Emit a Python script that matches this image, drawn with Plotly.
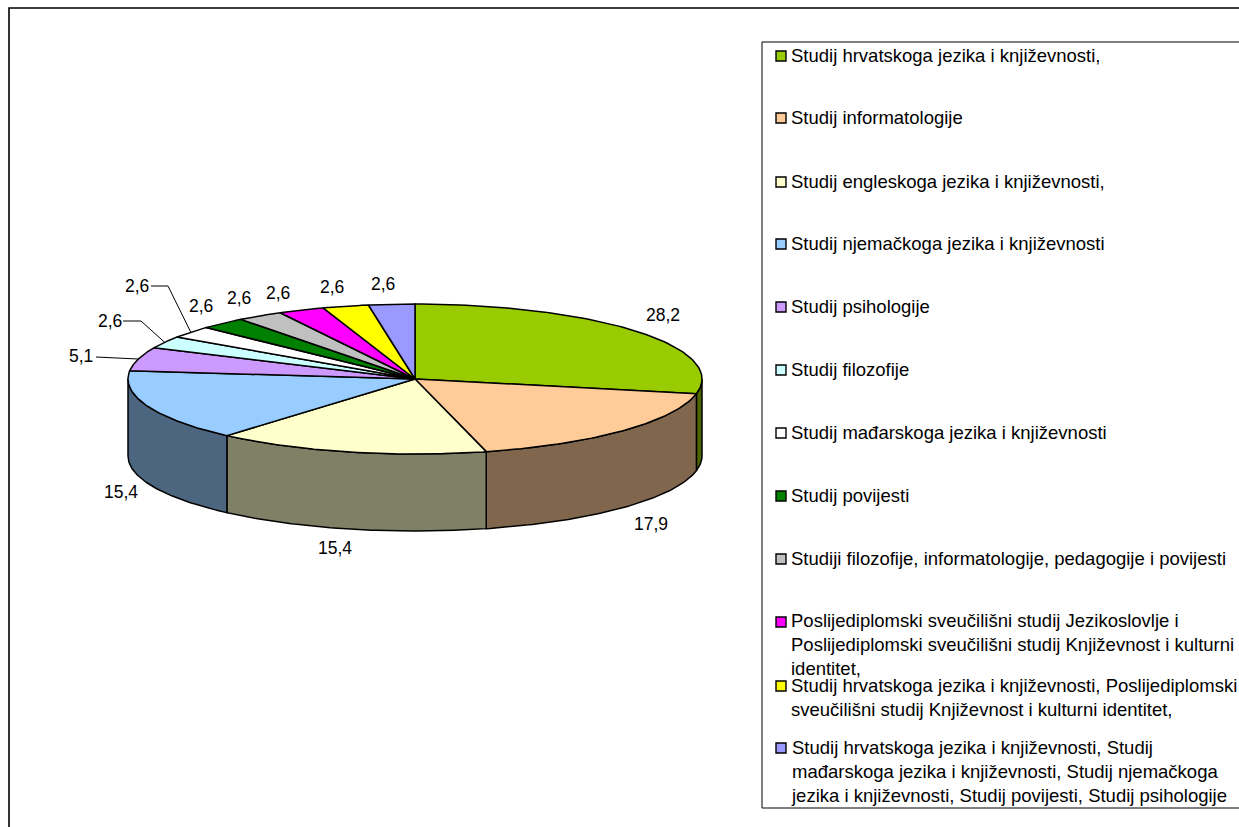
import numpy as np
import plotly.graph_objects as go

# Shares of graduate theses by study programme (per cent)
programmes = [
    "Studij hrvatskoga jezika i književnosti,",
    "Studij informatologije",
    "Studij engleskoga jezika i književnosti,",
    "Studij njemačkoga jezika i književnosti",
    "Studij psihologije",
    "Studij filozofije",
    "Studij mađarskoga jezika i književnosti",
    "Studij povijesti",
    "Studiji filozofije, informatologije, pedagogije i povijesti",
    "Poslijediplomski sveučilišni studij Jezikoslovlje i<br>Poslijediplomski sveučilišni studij Književnost i kulturni<br>identitet,",
    "Studij hrvatskoga jezika i književnosti, Poslijediplomski<br>sveučilišni studij Književnost i kulturni identitet,",
    "Studij hrvatskoga jezika i književnosti, Studij<br>mađarskoga jezika i književnosti, Studij njemačkoga<br>jezika i književnosti, Studij povijesti, Studij psihologije",
]
shares = [28.2, 17.9, 15.4, 15.4, 5.1, 2.6, 2.6, 2.6, 2.6, 2.6, 2.6, 2.6]
top_colors = ["#99CC00", "#FFCC99", "#FFFFCC", "#99CCFF", "#CC99FF", "#CCFFFF",
              "#FFFFFF", "#008000", "#C0C0C0", "#FF00FF", "#FFFF00", "#9999FF"]
wall_colors = ["#4D6600", "#80664D", "#808066", "#4D6680"]

# Pie geometry on a pixel-sized canvas
W, H = 1239, 827
CX, CY, RX, RY, DEPTH = 415, 379, 287, 75, 77
FONT = "Liberation Sans, Arial, sans-serif"
LABEL_SIZE = 17.5
LEGEND_SIZE = 18.5
INK = "#000000"

# Value label centres and leader elbows in canvas pixels
label_xy = [(663, 315), (651, 524), (335, 548), (121, 492), (81, 356), (110, 321),
            (137, 286), (201, 306), (239, 298), (278, 293), (332, 287), (383, 284)]
leader_elbows = {4: [(96, 357)], 5: [(123, 321), (141, 321)], 6: [(151, 286), (168, 286)]}
legend_rows = [56, 118, 182, 244, 307, 370, 433, 496, 559, 622, 686, 748]
text_nudge = {9: -1}
LEG_X0, LEG_Y0, LEG_Y1 = 762, 42, 808
FRAME_X, FRAME_Y = 9, 8


def rim(theta_deg):
    t = np.radians(theta_deg)
    return CX + RX * np.sin(t), CY - RY * np.cos(t)


edges = np.concatenate([[0], np.cumsum(shares)]) / sum(shares) * 360
fig = go.Figure()


def polygon(xs, ys, fill, name):
    fig.add_trace(go.Scatter(
        x=xs, y=ys, mode="lines", fill="toself", fillcolor=fill, name=name,
        line=dict(color=INK, width=1.5), hoverinfo="skip", showlegend=False))


# Outer wall of the front half of the disc, painted from the right round to the left
for i, color in enumerate(wall_colors):
    a = max(edges[i], 90)
    b = min(edges[i + 1], 270)
    t = np.linspace(a, b, 80)
    x, y = rim(t)
    polygon(np.concatenate([x, x[::-1], x[:1]]),
            np.concatenate([y, y[::-1] + DEPTH, y[:1]]), color, programmes[i] + " (rub)")

# Top face
for i, color in enumerate(top_colors):
    t = np.linspace(edges[i], edges[i + 1], 80)
    x, y = rim(t)
    polygon(np.concatenate([[CX], x, [CX]]), np.concatenate([[CY], y, [CY]]), color, programmes[i])

# Leader lines for the small slices at the back left
for i, pts in leader_elbows.items():
    ax, ay = rim((edges[i] + edges[i + 1]) / 2)
    fig.add_trace(go.Scatter(
        x=[p[0] for p in pts] + [ax], y=[p[1] for p in pts] + [ay], mode="lines",
        line=dict(color=INK, width=1), hoverinfo="skip", showlegend=False))

annotations = []
for value, (lx, ly) in zip(shares, label_xy):
    annotations.append(dict(
        x=lx, y=ly, text=f"{value:.1f}".replace(".", ","), showarrow=False,
        xanchor="center", yanchor="middle", font=dict(family=FONT, size=LABEL_SIZE, color=INK)))

# Hand-placed legend: one square key and one text block per programme
fig.add_trace(go.Scatter(
    x=[781] * len(programmes), y=legend_rows, mode="markers",
    marker=dict(symbol="square", size=10, color=top_colors, line=dict(color=INK, width=1.4)),
    hoverinfo="skip", showlegend=False))
for i, (name, row) in enumerate(zip(programmes, legend_rows)):
    annotations.append(dict(
        x=791, y=row - 13 + text_nudge.get(i, 0), text=name, showarrow=False,
        xanchor="left", yanchor="top", align="left", xshift=-2,
        font=dict(family=FONT, size=LEGEND_SIZE, color=INK)))

shapes = [
    dict(type="rect", x0=FRAME_X, y0=FRAME_Y, x1=W + 20, y1=H + 20,
         line=dict(color=INK, width=1.6), fillcolor="rgba(0,0,0,0)", layer="below"),
    dict(type="rect", x0=LEG_X0, y0=LEG_Y0, x1=W + 20, y1=LEG_Y1,
         line=dict(color=INK, width=1), fillcolor="rgba(0,0,0,0)", layer="below"),
]

fig.update_layout(
    width=W, height=H, margin=dict(l=0, r=0, t=0, b=0, pad=0),
    paper_bgcolor="white", plot_bgcolor="white", showlegend=False,
    xaxis=dict(range=[0, W], visible=False, fixedrange=True),
    yaxis=dict(range=[H, 0], visible=False, fixedrange=True),
    annotations=annotations, shapes=shapes,
)
fig.write_html("out.html", config={"displayModeBar": False})
